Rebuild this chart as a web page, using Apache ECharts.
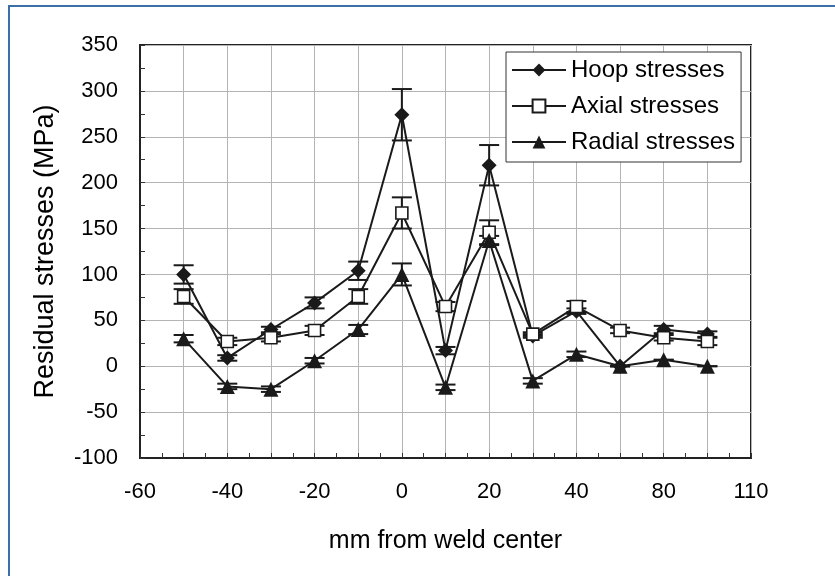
<!DOCTYPE html>
<html>
<head>
<meta charset="utf-8">
<script src="https://cdn.jsdelivr.net/npm/echarts@6/dist/echarts.min.js"></script>
<style>
  html, body { margin: 0; padding: 0; background: #fff; }
  #frame {
    position: absolute; left: 8px; top: 5px; width: 827px; height: 571px;
    border-top: 2px solid #3b6fa6; border-left: 2px solid #3b6fa6;
  }
  #chart { position: absolute; left: 0; top: 0; width: 835px; height: 576px; }
</style>
</head>
<body>
<div id="frame"></div>
<div id="chart"></div>
<script>
// positions along the weld (mm)
const xPositions = [-50, -40, -30, -20, -10, 0, 10, 20, 30, 40, 50, 60, 70];
// tick labels as printed under the axis (every second gridline)
const xTickLabels = ['-60', '-40', '-20', '0', '20', '40', '80', '110'];

const hoop = [100, 9, 40, 69, 104, 274, 17, 219, 33, 60, 0, 40, 35];
const axial = [76, 27, 31, 39, 76, 167, 65, 146, 35, 65, 39, 31, 27];
const radial = [30, -22, -25, 6, 40, 100, -23, 137, -16, 13, 0, 7, 0];

// half-length of the error bars
const hoopErr = [10, 3, 3, 6, 10, 28, 4, 22, 2, 3, 0, 4, 3];
const axialErr = [8, 4, 4, 5, 8, 17, 5, 13, 2, 6, 3, 3, 4];
const radialErr = [4, 3, 3, 3, 5, 12, 3, 5, 3, 3, 0, 0, 0];

const ink = '#1a1a1a';
const fontFamily = '"Liberation Sans", Arial, sans-serif';

const toPairs = (vals) => vals.map((v, i) => [xPositions[i], v]);
const toBars = (vals, errs) =>
  vals.map((v, i) => [xPositions[i], v - errs[i], v + errs[i]]);

function renderErrorBar(params, api) {
  const x = api.value(0);
  const lo = api.coord([x, api.value(1)]);
  const hi = api.coord([x, api.value(2)]);
  const half = 10;
  const style = { stroke: ink, lineWidth: 2 };
  return {
    type: 'group',
    children: [
      { type: 'line', shape: { x1: lo[0], y1: lo[1], x2: hi[0], y2: hi[1] }, style },
      { type: 'line', shape: { x1: hi[0] - half, y1: hi[1], x2: hi[0] + half, y2: hi[1] }, style },
      { type: 'line', shape: { x1: lo[0] - half, y1: lo[1], x2: lo[0] + half, y2: lo[1] }, style },
    ],
  };
}

const errorSeries = (vals, errs) => ({
  type: 'custom',
  renderItem: renderErrorBar,
  data: toBars(vals, errs),
  z: 2,
  silent: true,
});

const lineSeries = (name, vals, symbol, size, fill) => ({
  name,
  type: 'line',
  data: toPairs(vals),
  symbol,
  symbolSize: size,
  showAllSymbol: true,
  lineStyle: { color: ink, width: 2 },
  itemStyle: { color: fill, borderColor: ink, borderWidth: fill === '#fff' ? 1.6 : 0 },
  z: 3,
});

const chart = echarts.init(document.getElementById('chart'));

chart.setOption({
  animation: false,
  textStyle: { fontFamily },
  grid: {
    left: 140,
    top: 45,
    right: 84,
    bottom: 118,
    show: true,
    borderColor: '#222',
    borderWidth: 2,
  },
  legend: {
    orient: 'vertical',
    left: 506,
    top: 52,
    padding: [6, 6, 8, 5],
    itemWidth: 54,
    itemHeight: 16,
    itemGap: 12,
    backgroundColor: '#fff',
    borderColor: '#333',
    borderWidth: 1,
    borderRadius: 0,
    textStyle: { fontSize: 24, color: '#000', fontFamily },
    data: ['Hoop stresses', 'Axial stresses', 'Radial stresses'],
  },
  xAxis: {
    type: 'value',
    min: -60,
    max: 80,
    interval: 10,
    name: 'mm from weld center',
    nameLocation: 'middle',
    nameGap: 71,
    nameTextStyle: { fontSize: 25, color: '#000', fontFamily },
    axisLine: { onZero: false, lineStyle: { color: '#222', width: 2 } },
    axisTick: { inside: true, length: 5, lineStyle: { color: '#333' } },
    minorTick: { show: true, splitNumber: 2, length: 5, lineStyle: { color: '#333' } },
    axisLabel: {
      fontSize: 22,
      color: '#000',
      margin: 23,
      formatter: (v) => ((v + 60) % 20 === 0 ? xTickLabels[(v + 60) / 20] : ''),
    },
    splitLine: { show: true, lineStyle: { color: '#b4b4b4', width: 1 } },
  },
  yAxis: {
    type: 'value',
    min: -100,
    max: 350,
    interval: 50,
    name: 'Residual stresses (MPa)',
    nameLocation: 'middle',
    nameGap: 81,
    nameTextStyle: { fontSize: 27, color: '#000', fontFamily },
    axisLine: { show: true, onZero: false, lineStyle: { color: '#222', width: 2 } },
    axisTick: { show: true, inside: true, length: 5, lineStyle: { color: '#333' } },
    minorTick: { show: true, splitNumber: 2, length: 5, lineStyle: { color: '#333' } },
    axisLabel: { fontSize: 22, color: '#000', margin: 22 },
    splitLine: { show: true, lineStyle: { color: '#b4b4b4', width: 1 } },
  },
  series: [
    errorSeries(hoop, hoopErr),
    errorSeries(axial, axialErr),
    errorSeries(radial, radialErr),
    lineSeries('Hoop stresses', hoop, 'diamond', 15, ink),
    lineSeries('Axial stresses', axial, 'rect', 12, '#fff'),
    lineSeries('Radial stresses', radial, 'triangle', 15, ink),
  ],
});
</script>
</body>
</html>
